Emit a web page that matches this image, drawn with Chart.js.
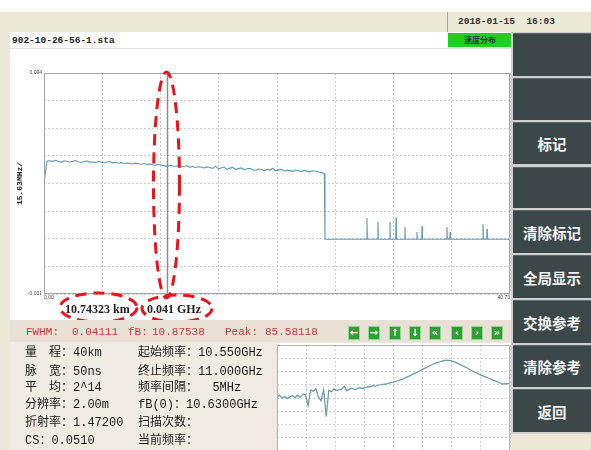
<!DOCTYPE html>
<html>
<head>
<meta charset="utf-8">
<script src="https://cdn.jsdelivr.net/npm/chart.js@4.4.1/dist/chart.umd.min.js"></script>
<style>
html, body { margin: 0; padding: 0; }
body { width: 591px; height: 450px; overflow: hidden; position: relative; background: #fff;
  font-family: "Liberation Mono", "Noto Sans CJK SC", monospace; }
.a { position: absolute; white-space: pre; }
#frame { left: 0; top: 12px; width: 591px; height: 438px; background: #ece9d8; }
#topsep { left: 447px; top: 12px; width: 1px; height: 20px; background: #a8a597; }
#date { left: 458px; top: 16px; font-size: 9.5px; font-weight: bold; color: #333; }
#fileRow { left: 10px; top: 32px; width: 502px; height: 16px; background: #fff; border-bottom: 1px solid #e0e0e0; }
#fname { left: 12px; top: 35px; font-size: 9.5px; font-weight: bold; color: #222; }
#badge { left: 448px; top: 33px; width: 64px; height: 14px; background: #1fd01f; color: #234;
  font: bold 8px "Noto Sans CJK SC"; text-align: center; line-height: 14px; }
#plotBg { left: 10px; top: 49px; width: 502px; height: 272px; background: #fff; }
#mainWrap { left: 10px; top: 48px; }
#redBar { left: 10px; top: 320px; width: 502px; height: 22px; background: #e9e0d6; }
.red { top: 325px; font-size: 11px; line-height: 14px; color: #c23a3a; font-family: "Liberation Mono"; }
.arr { top: 326px; width: 12px; height: 14px; background: #2f9e33; border: 1px solid #8fd88f; box-sizing: border-box;
  color: #fff; font: bold 10px "DejaVu Sans"; text-align: center; line-height: 12px; }
#infoBg { left: 10px; top: 342px; width: 266px; height: 108px; background: #efebe2; }
.info { font-size: 12px; color: #1a1a1a; line-height: 16px; }
#specBg { left: 277px; top: 343px; width: 234px; height: 107px; background: #fff; }
#specWrap { left: 276px; top: 344px; }
#btnCol { left: 511px; top: 32px; width: 80px; height: 402px; background: #cfcfcf; }
.btn { position: absolute; left: 513px; width: 78px; background: #3c4747; border-top: 1px solid #5d6868;
  box-sizing: border-box; color: #f2f2f2; font: bold 14.5px "Noto Sans CJK SC";
  display: flex; align-items: center; justify-content: center; }
</style>
</head>
<body>
<div class="a" id="frame"></div>
<div class="a" id="topsep"></div>
<div class="a" id="date">2018-01-15  16:03</div>
<div class="a" id="fileRow"></div>
<div class="a" id="fname">902-10-26-56-1.sta</div>
<div class="a" id="badge">速度分布</div>
<div class="a" id="plotBg"></div>
<div class="a" id="mainWrap"><canvas id="main" width="502" height="276"></canvas></div>
<div class="a" id="redBar"></div>
<div class="a" id="infoBg"></div>
<div class="a" id="specBg"></div>
<div class="a" id="specWrap"><canvas id="spec" width="236" height="112"></canvas></div>
<div class="a" id="btnCol"></div>
<div id="ui"></div>

<script>
// 主图：距离(km) — 布里渊频移(GHz)
const distMaxKm = 40.73;
const yMaxGHz = 0.094;
const yMinGHz = -0.031;
const xTickLabels = ['0.00', '40.73'];
const yTickLabels = ['0.094', '-0.031'];
const yTitle = '15.63MHz/';

// 光纤段，每 0.25 km 一个点
const plateauStepKm = 0.25;
const plateauGHz = [
  0.0315, 0.0441, 0.0444, 0.0440, 0.0446, 0.0439, 0.0436, 0.0443, 0.0441, 0.0437,
  0.0440, 0.0445, 0.0438, 0.0434, 0.0439, 0.0442, 0.0436, 0.0437, 0.0433, 0.0440,
  0.0435, 0.0431, 0.0437, 0.0439, 0.0432, 0.0434, 0.0430, 0.0433, 0.0428, 0.0431,
  0.0429, 0.0425, 0.0430, 0.0427, 0.0424, 0.0428, 0.0423, 0.0426, 0.0421, 0.0419,
  0.0424, 0.0420, 0.0416, 0.0412, 0.0418, 0.0414, 0.0411, 0.0416, 0.0409, 0.0413,
  0.0415, 0.0408, 0.0411, 0.0406, 0.0410, 0.0407, 0.0403, 0.0409, 0.0405, 0.0400,
  0.0413, 0.0397, 0.0404, 0.0408, 0.0395, 0.0402, 0.0406, 0.0394, 0.0399, 0.0403,
  0.0392, 0.0398, 0.0401, 0.0393, 0.0389, 0.0397, 0.0394, 0.0388, 0.0395, 0.0391,
  0.0401, 0.0387, 0.0392, 0.0395, 0.0386, 0.0390, 0.0388, 0.0384, 0.0391, 0.0386,
  0.0383, 0.0389, 0.0385, 0.0381, 0.0387, 0.0384, 0.0380, 0.0376, 0.0372
];
const dropKm = 24.56;
const spikeKm  = [28.23, 29.19, 30.24, 30.77, 31.55, 32.60, 33.04, 35.22, 35.49, 38.37, 38.72];
const spikeGHz = [0.0120, 0.0097, 0.0097, 0.0122, 0.0069, 0.0041, 0.0075, 0.0069, 0.0041, 0.0086, 0.0058];

const markerKm = 10.74323;
const markerKmText = '10.74323 km';
const markerGHzText = '0.041 GHz';

// 频谱小图：10.550 ~ 11.000 GHz，间隔 5 MHz
const specStartGHz = 10.55;
const specStopGHz = 11.0;
const specStepGHz = 0.005;
const specValues = [
  51.2, 52.5, 49.8, 51.5, 49.6, 51.0, 52.4, 50.2, 52.8, 50.6,
  53.6, 53.0, 43.0, 57.4, 56.4, 58.8, 51.0, 47.5, 57.6, 32.6,
  57.2, 56.0, 58.6, 57.0, 57.8, 58.4, 61.0, 56.8, 58.4, 59.2,
  58.0, 58.6, 59.8, 59.0, 59.8, 60.4, 60.6, 61.6, 61.2, 62.2,
  62.4, 62.8, 63.2, 63.8, 64.4, 65.0, 65.8, 66.6, 67.4, 68.2,
  69.4, 70.6, 71.8, 73.0, 74.2, 75.4, 76.8, 78.0, 79.2, 80.4,
  81.6, 82.6, 83.4, 84.2, 84.9, 85.4, 85.6, 85.3, 84.6, 83.6,
  82.4, 81.2, 80.0, 78.8, 77.6, 76.2, 75.0, 73.8, 72.6, 71.4,
  70.4, 69.4, 68.4, 67.4, 66.4, 65.4, 64.4, 63.2, 63.4, 63.6, 63.8
];

// 界面文字
const redItems = [['FWHM:', 26], ['0.04111', 72], ['fB:', 128], ['10.87538', 152], ['Peak:', 225], ['85.58118', 265]];
const arrowGlyphs = ['←', '→', '↑', '↓', '«', '‹', '›', '»'];
const arrowX = [348, 368, 389, 409, 429, 451, 471, 491];
const infoLeft = ['量　程：40km', '脉　宽：50ns', '平　均：2^14', '分辨率：2.00m', '折射率：1.47200', 'CS：0.0510'];
const infoRight = ['起始频率：10.550GHz', '终止频率：11.000GHz', '频率间隔：  5MHz', 'fB(0)：10.6300GHz', '扫描次数：', '当前频率：'];
const infoLineY = [345, 364, 380, 397, 415, 433];
const buttons = [['', 33, 76], ['', 78, 120], ['标记', 122, 164], ['', 167, 208], ['清除标记', 210, 253],
  ['全局显示', 255, 298], ['交换参考', 300, 343], ['清除参考', 345, 387], ['返回', 389, 432]];

const ui = document.getElementById('ui');
function addDiv(cls, text, style) {
  const d = document.createElement('div');
  d.className = cls;
  d.textContent = text;
  Object.assign(d.style, style);
  ui.appendChild(d);
}
redItems.forEach(([t, x]) => addDiv('a red', t, { left: x + 'px' }));
arrowGlyphs.forEach((g, i) => addDiv('a arr', g, { left: arrowX[i] + 'px' }));
infoLeft.forEach((t, i) => addDiv('a info', t, { left: '25px', top: infoLineY[i] + 'px' }));
infoRight.forEach((t, i) => addDiv('a info', t, { left: '138px', top: infoLineY[i] + 'px' }));
buttons.forEach(([t, y0, y1]) => addDiv('btn', t, { top: y0 + 'px', height: (y1 - y0) + 'px' }));

// 等分网格
function evenTicks(n) {
  return scale => {
    const step = (scale.max - scale.min) / n;
    scale.ticks = Array.from({ length: n + 1 }, (_, i) => ({ value: scale.min + i * step }));
  };
}

const framePlugin = {
  id: 'frame',
  afterDatasetsDraw(chart, args, opts) {
    const { ctx, chartArea: a } = chart;
    ctx.save();
    ctx.strokeStyle = opts.color || '#999';
    ctx.lineWidth = 1;
    ctx.strokeRect(Math.round(a.left) + 0.5, Math.round(a.top) + 0.5,
      Math.round(a.right - a.left) - 1, Math.round(a.bottom - a.top) - 1);
    ctx.restore();
  },
};

// 标记线
const markerPlugin = {
  id: 'marker',
  beforeDatasetsDraw(chart) {
    const { ctx, chartArea: a, scales: { x } } = chart;
    const px = Math.round(x.getPixelForValue(markerKm)) + 0.5;
    ctx.save();
    ctx.strokeStyle = '#8c8c8c';
    ctx.lineWidth = 1.5;
    ctx.beginPath();
    ctx.moveTo(px, a.top);
    ctx.lineTo(px, a.bottom);
    ctx.stroke();
    ctx.restore();
  },
};

// 标记读数 + 红色虚线圈
const notePlugin = {
  id: 'note',
  afterDraw(chart) {
    const { ctx } = chart;
    ctx.save();
    ctx.fillStyle = '#222';
    ctx.font = 'bold 12px "Liberation Serif"';
    ctx.textBaseline = 'middle';
    ctx.fillText(markerKmText, 55, 262);
    ctx.fillText(markerGHzText, 137, 262);
    ctx.strokeStyle = '#e8141c';
    ctx.lineWidth = 3;
    ctx.setLineDash([11, 7]);
    [[88.5, 259.5, 38.5, 14.5], [167, 260.5, 35, 13.5], [156.5, 137, 13, 113]].forEach(([cx, cy, rx, ry]) => {
      ctx.beginPath();
      ctx.ellipse(cx, cy, rx, ry, 0, 0, Math.PI * 2);
      ctx.stroke();
    });
    ctx.restore();
  },
};

const mainPts = plateauGHz.map((v, i) => ({ x: i * plateauStepKm, y: v }));
mainPts.push({ x: dropKm, y: 0 });
spikeKm.forEach((km, i) => {
  mainPts.push({ x: km - 0.03, y: 0 }, { x: km, y: spikeGHz[i] }, { x: km + 0.03, y: 0 });
});
mainPts.push({ x: distMaxKm, y: 0 });

const tinyFont = { size: 5, family: '"Liberation Sans"' };

new Chart(document.getElementById('main'), {
  type: 'line',
  data: {
    datasets: [{
      data: mainPts,
      borderColor: '#5b9ab8',
      borderWidth: 1.1,
      pointRadius: 0,
      tension: 0,
      fill: false,
    }],
  },
  options: {
    responsive: false,
    animation: false,
    layout: { padding: { top: 25, right: 2, left: 0, bottom: 0 } },
    plugins: { legend: { display: false }, tooltip: { enabled: false }, frame: { color: '#a5a5a5' } },
    scales: {
      x: {
        type: 'linear', min: 0, max: distMaxKm,
        afterBuildTicks: evenTicks(8),
        afterFit: s => { s.height = 30; },
        grid: { color: '#cdcdcd', drawTicks: false },
        border: { display: false, dash: [2, 2] },
        ticks: {
          autoSkip: false, maxRotation: 0, align: 'inner', padding: 1, color: '#444', font: tinyFont,
          callback: (v, i, t) => i === 0 ? xTickLabels[0] : (i === t.length - 1 ? xTickLabels[1] : ''),
        },
      },
      y: {
        min: yMinGHz, max: yMaxGHz,
        afterBuildTicks: evenTicks(8),
        afterFit: s => { s.width = 34; },
        grid: { color: '#cdcdcd', drawTicks: false },
        border: { display: false, dash: [2, 2] },
        ticks: {
          autoSkip: false, padding: 2, color: '#444', font: tinyFont,
          callback: (v, i, t) => i === 0 ? yTickLabels[1] : (i === t.length - 1 ? yTickLabels[0] : ''),
        },
        title: { display: true, text: yTitle, color: '#222', padding: { top: 5, bottom: 0 },
          font: { size: 8, weight: 'bold', family: '"Liberation Mono"' } },
      },
    },
  },
  plugins: [markerPlugin, framePlugin, notePlugin],
});

const specPts = specValues.map((v, i) => ({ x: specStartGHz + i * specStepGHz, y: v }));

new Chart(document.getElementById('spec'), {
  type: 'line',
  data: {
    datasets: [{
      data: specPts,
      borderColor: '#6e9ca8',
      borderWidth: 1.3,
      pointRadius: 0,
      tension: 0,
      fill: false,
    }],
  },
  options: {
    responsive: false,
    animation: false,
    layout: { padding: { top: 1, right: 2, left: 1, bottom: 5 } },
    plugins: { legend: { display: false }, tooltip: { enabled: false }, frame: { color: '#b3b3b3' } },
    scales: {
      x: {
        type: 'linear', min: specStartGHz, max: specStopGHz,
        afterBuildTicks: evenTicks(8),
        afterFit: s => { s.height = 0; },
        grid: { color: '#cfcfcf', drawTicks: false },
        border: { display: false, dash: [2, 2] },
        ticks: { display: false },
      },
      y: {
        min: 0, max: 100,
        afterBuildTicks: evenTicks(8),
        afterFit: s => { s.width = 0; },
        grid: { color: '#cfcfcf', drawTicks: false },
        border: { display: false, dash: [2, 2] },
        ticks: { display: false },
      },
    },
  },
  plugins: [framePlugin],
});
</script>
</body>
</html>
